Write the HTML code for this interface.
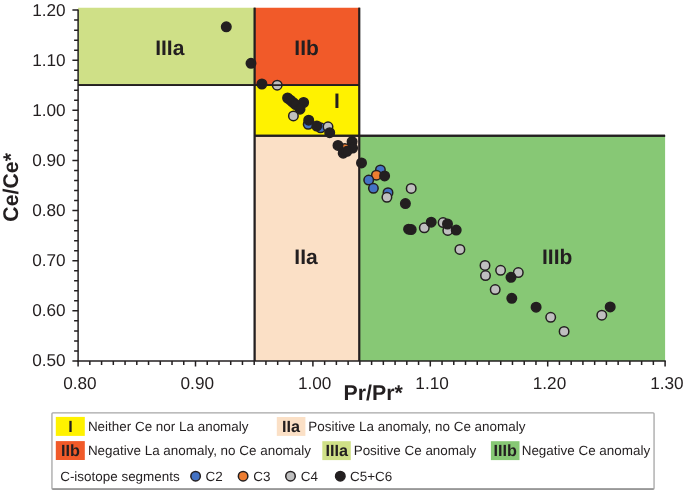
<!DOCTYPE html>
<html><head><meta charset="utf-8"><title>Ce/Ce* vs Pr/Pr*</title>
<style>
html,body{margin:0;padding:0;background:#fff}
svg{display:block}
text{text-rendering:geometricPrecision;font-family:"Liberation Sans",Arial,Helvetica,sans-serif;fill:#231f20}
.b{font-weight:bold}
</style></head><body>
<svg width="685" height="491" viewBox="0 0 685 491">
<rect width="685" height="491" fill="#fff"/>
<rect x="78.10" y="7.75" width="176.50" height="77.45" fill="#cfe087"/>
<rect x="254.60" y="7.75" width="104.70" height="77.45" fill="#f15a29"/>
<rect x="254.60" y="85.20" width="104.70" height="50.55" fill="#fff200"/>
<rect x="254.60" y="135.75" width="104.70" height="225.20" fill="#fbe0c6"/>
<rect x="359.30" y="135.75" width="305.80" height="225.20" fill="#87c875"/>
<g stroke="#231f20" stroke-width="1.5" fill="none">
<g stroke-width="1.8"><path d="M78.10 85.20H359.30M254.60 135.75H665.10M254.60 7.75V360.95M359.30 7.75V360.95"/></g>
<path d="M78.10 9.40V361.65"/>
<path d="M77.40 360.95H665.80"/>
<path d="M78.10 10.10h-5.70M78.10 20.12h-4.00M78.10 30.15h-4.00M78.10 40.17h-4.00M78.10 50.20h-4.00M78.10 60.22h-5.70M78.10 70.25h-4.00M78.10 80.27h-4.00M78.10 90.29h-4.00M78.10 100.32h-4.00M78.10 110.34h-5.70M78.10 120.37h-4.00M78.10 130.39h-4.00M78.10 140.42h-4.00M78.10 150.44h-4.00M78.10 160.46h-5.70M78.10 170.49h-4.00M78.10 180.51h-4.00M78.10 190.54h-4.00M78.10 200.56h-4.00M78.10 210.59h-5.70M78.10 220.61h-4.00M78.10 230.63h-4.00M78.10 240.66h-4.00M78.10 250.68h-4.00M78.10 260.71h-5.70M78.10 270.73h-4.00M78.10 280.76h-4.00M78.10 290.78h-4.00M78.10 300.80h-4.00M78.10 310.83h-5.70M78.10 320.85h-4.00M78.10 330.88h-4.00M78.10 340.90h-4.00M78.10 350.93h-4.00M78.10 360.95h-5.70M78.10 360.95v5.60M89.84 360.95v4.10M101.58 360.95v4.10M113.32 360.95v4.10M125.06 360.95v4.10M136.80 360.95v4.10M148.54 360.95v4.10M160.28 360.95v4.10M172.02 360.95v4.10M183.76 360.95v4.10M195.50 360.95v5.60M207.24 360.95v4.10M218.98 360.95v4.10M230.72 360.95v4.10M242.46 360.95v4.10M254.20 360.95v4.10M265.94 360.95v4.10M277.68 360.95v4.10M289.42 360.95v4.10M301.16 360.95v4.10M312.90 360.95v5.60M324.64 360.95v4.10M336.38 360.95v4.10M348.12 360.95v4.10M359.86 360.95v4.10M371.60 360.95v4.10M383.34 360.95v4.10M395.08 360.95v4.10M406.82 360.95v4.10M418.56 360.95v4.10M430.30 360.95v5.60M442.04 360.95v4.10M453.78 360.95v4.10M465.52 360.95v4.10M477.26 360.95v4.10M489.00 360.95v4.10M500.74 360.95v4.10M512.48 360.95v4.10M524.22 360.95v4.10M535.96 360.95v4.10M547.70 360.95v5.60M559.44 360.95v4.10M571.18 360.95v4.10M582.92 360.95v4.10M594.66 360.95v4.10M606.40 360.95v4.10M618.14 360.95v4.10M629.88 360.95v4.10M641.62 360.95v4.10M653.36 360.95v4.10M665.10 360.95v5.60"/>
</g>
<g font-size="17.2">
<text x="65.6" y="15.60" text-anchor="end">1.20</text>
<text x="65.6" y="65.72" text-anchor="end">1.10</text>
<text x="65.6" y="115.84" text-anchor="end">1.00</text>
<text x="65.6" y="165.96" text-anchor="end">0.90</text>
<text x="65.6" y="216.09" text-anchor="end">0.80</text>
<text x="65.6" y="266.21" text-anchor="end">0.70</text>
<text x="65.6" y="316.33" text-anchor="end">0.60</text>
<text x="65.6" y="366.45" text-anchor="end">0.50</text>
<text x="79.90" y="388.8" text-anchor="middle">0.80</text>
<text x="197.30" y="388.8" text-anchor="middle">0.90</text>
<text x="314.70" y="388.8" text-anchor="middle">1.00</text>
<text x="432.10" y="388.8" text-anchor="middle">1.10</text>
<text x="549.50" y="388.8" text-anchor="middle">1.20</text>
<text x="666.90" y="388.8" text-anchor="middle">1.30</text>
</g>
<text class="b" font-size="21.3" text-anchor="middle" transform="translate(17.8 187.4) rotate(-90)">Ce/Ce*</text>
<text class="b" font-size="21.3" x="343.6" y="399.5">Pr/Pr*</text>
<g class="b" font-size="21">
<text x="155.2" y="55">IIIa</text>
<text x="294.3" y="55">IIb</text>
<text x="334" y="107.7">I</text>
<text x="294.3" y="263.8">IIa</text>
<text x="542" y="263.5">IIIb</text>
</g>
<g stroke="#231f20" stroke-width="1.5">
<circle cx="226.3" cy="26.8" r="4.75" fill="#231f20"/>
<circle cx="251.0" cy="63.3" r="4.75" fill="#231f20"/>
<circle cx="261.9" cy="84.0" r="4.75" fill="#231f20"/>
<circle cx="277.2" cy="85.2" r="4.75" fill="#bfbfbf"/>
<circle cx="287.6" cy="98.0" r="4.75" fill="#231f20"/>
<circle cx="290.4" cy="100.2" r="4.75" fill="#231f20"/>
<circle cx="293.0" cy="102.4" r="4.75" fill="#231f20"/>
<circle cx="295.6" cy="104.6" r="4.75" fill="#231f20"/>
<circle cx="303.6" cy="102.5" r="4.75" fill="#231f20"/>
<circle cx="300.0" cy="109.2" r="4.75" fill="#231f20"/>
<circle cx="293.4" cy="115.9" r="4.75" fill="#bfbfbf"/>
<circle cx="308.2" cy="124.3" r="4.75" fill="#4472c4"/>
<circle cx="320.6" cy="127.8" r="4.75" fill="#4472c4"/>
<circle cx="308.7" cy="120.2" r="4.75" fill="#231f20"/>
<circle cx="316.8" cy="126.0" r="4.75" fill="#231f20"/>
<circle cx="328.0" cy="126.8" r="4.75" fill="#bfbfbf"/>
<circle cx="329.7" cy="132.7" r="4.75" fill="#231f20"/>
<circle cx="344.8" cy="148.4" r="4.75" fill="#ed7d31"/>
<circle cx="338.0" cy="145.4" r="4.75" fill="#231f20"/>
<circle cx="352.1" cy="141.6" r="4.75" fill="#231f20"/>
<circle cx="352.6" cy="148.1" r="4.75" fill="#231f20"/>
<circle cx="343.2" cy="153.2" r="4.75" fill="#231f20"/>
<circle cx="347.0" cy="151.3" r="4.75" fill="#231f20"/>
<circle cx="361.5" cy="162.9" r="4.75" fill="#231f20"/>
<circle cx="380.4" cy="169.9" r="4.75" fill="#4472c4"/>
<circle cx="376.4" cy="175.2" r="4.75" fill="#ed7d31"/>
<circle cx="384.6" cy="175.9" r="4.75" fill="#231f20"/>
<circle cx="368.7" cy="180.1" r="4.75" fill="#4472c4"/>
<circle cx="373.4" cy="188.3" r="4.75" fill="#4472c4"/>
<circle cx="388.0" cy="192.7" r="4.75" fill="#4472c4"/>
<circle cx="386.9" cy="197.3" r="4.75" fill="#bfbfbf"/>
<circle cx="411.2" cy="188.4" r="4.75" fill="#bfbfbf"/>
<circle cx="405.4" cy="203.6" r="4.75" fill="#231f20"/>
<circle cx="408.6" cy="229.2" r="4.75" fill="#231f20"/>
<circle cx="411.2" cy="229.6" r="4.75" fill="#231f20"/>
<circle cx="424.3" cy="227.8" r="4.75" fill="#bfbfbf"/>
<circle cx="431.2" cy="222.2" r="4.75" fill="#231f20"/>
<circle cx="443.1" cy="222.6" r="4.75" fill="#bfbfbf"/>
<circle cx="447.8" cy="230.4" r="4.75" fill="#bfbfbf"/>
<circle cx="447.5" cy="224.0" r="4.75" fill="#231f20"/>
<circle cx="456.2" cy="230.1" r="4.75" fill="#231f20"/>
<circle cx="459.9" cy="249.4" r="4.75" fill="#bfbfbf"/>
<circle cx="485.0" cy="265.4" r="4.75" fill="#bfbfbf"/>
<circle cx="485.5" cy="275.6" r="4.75" fill="#bfbfbf"/>
<circle cx="500.6" cy="270.3" r="4.75" fill="#bfbfbf"/>
<circle cx="518.3" cy="272.6" r="4.75" fill="#bfbfbf"/>
<circle cx="511.0" cy="277.3" r="4.75" fill="#231f20"/>
<circle cx="495.2" cy="289.6" r="4.75" fill="#bfbfbf"/>
<circle cx="511.8" cy="298.3" r="4.75" fill="#231f20"/>
<circle cx="536.1" cy="307.2" r="4.75" fill="#231f20"/>
<circle cx="550.7" cy="317.3" r="4.75" fill="#bfbfbf"/>
<circle cx="564.1" cy="331.4" r="4.75" fill="#bfbfbf"/>
<circle cx="601.8" cy="315.2" r="4.75" fill="#bfbfbf"/>
<circle cx="610.2" cy="306.9" r="4.75" fill="#231f20"/>
</g>
<g stroke="#231f20" stroke-width="1.8" fill="none"><path d="M78.10 85.20H359.30M254.60 135.75H665.10M254.60 7.75V360.95M359.30 7.75V360.95"/></g>
<rect x="51.95" y="412.9" width="602.1" height="76.15" rx="0.9" fill="#fff" stroke="#a6a6a6" stroke-width="1.3"/>
<path d="M52.4 489.05H653.6" stroke="#747474" stroke-width="1.1" fill="none"/>
<rect x="55.8" y="416.9" width="29" height="19" fill="#fff200"/>
<rect x="55.8" y="441.1" width="29" height="18.9" fill="#f15a29"/>
<rect x="276.8" y="417" width="28.6" height="18.9" fill="#fbe0c6"/>
<rect x="322.3" y="441.2" width="28.5" height="18.9" fill="#cfe087"/>
<rect x="490.9" y="441.2" width="28.6" height="18.9" fill="#87c875"/>
<g class="b" font-size="16.2" text-anchor="middle">
<text x="70.5" y="431.9">I</text>
<text x="70.5" y="455.9">IIb</text>
<text x="291" y="431.9">IIa</text>
<text x="336.8" y="455.9">IIIa</text>
<text x="505.2" y="455.9">IIIb</text>
</g>
<g font-size="13.45">
<text x="87.9" y="430.9">Neither Ce nor La anomaly</text>
<text x="308.3" y="430.9">Positive La anomaly, no Ce anomaly</text>
<text x="87.9" y="455.3">Negative La anomaly, no Ce anomaly</text>
<text x="353.7" y="455.3">Positive Ce anomaly</text>
<text x="521.7" y="455.3">Negative Ce anomaly</text>
<text x="60.2" y="480.8">C-isotope segments</text>
<text x="205.5" y="480.8">C2</text>
<text x="253.3" y="480.8">C3</text>
<text x="300.8" y="480.8">C4</text>
<text x="350.1" y="480.8">C5+C6</text>
</g>
<g stroke="#231f20" stroke-width="1.5">
<circle cx="195.6" cy="476.2" r="4.75" fill="#4472c4"/>
<circle cx="243.1" cy="476.2" r="4.75" fill="#ed7d31"/>
<circle cx="290.5" cy="476.2" r="4.75" fill="#bfbfbf"/>
<circle cx="340.3" cy="476.2" r="4.75" fill="#231f20"/>
</g>
</svg>
</body></html>
